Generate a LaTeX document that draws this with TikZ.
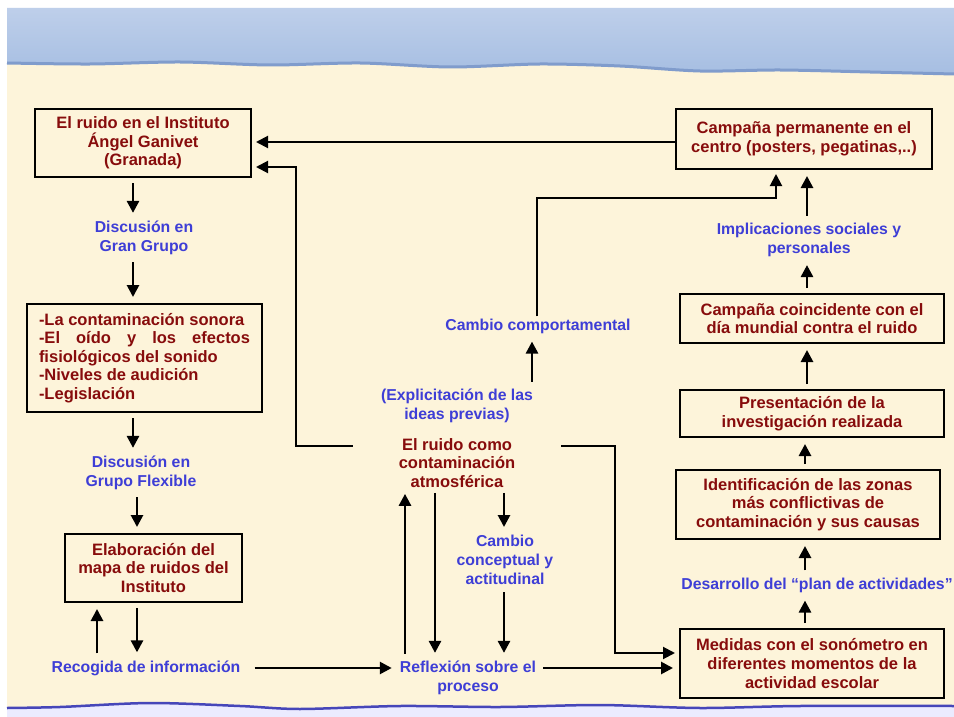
\documentclass[tikz,border=0pt]{standalone}
\usepackage{fontspec}
\setmainfont{Liberation Sans}
\usepackage{tikz}
\usetikzlibrary{arrows.meta}
\definecolor{crema}{RGB}{253,244,218}
\definecolor{cieloalto}{RGB}{190,207,234}
\definecolor{cielobajo}{RGB}{166,190,226}
\definecolor{borde}{RGB}{128,156,204}
\definecolor{granate}{RGB}{135,12,12}
\definecolor{azul}{RGB}{62,62,214}

\begin{document}
\begin{tikzpicture}[x=1pt,y=-1pt,
    caja/.style={draw,line width=2pt,text=granate,font=\bfseries\fontsize{16.5}{18.6}\selectfont,align=center,inner sep=0pt},
    etiq/.style={text=azul,font=\bfseries\fontsize{15.8}{19}\selectfont,align=center,inner sep=2pt},
    rojo/.style={text=granate,font=\bfseries\fontsize{16.5}{18.6}\selectfont,align=center,inner sep=2pt},
    flecha/.style={line width=2.7pt,-{Triangle[width=12pt,length=12pt]},shorten <=5pt,shorten >=6pt},
    conector/.style={line width=2pt,-{Triangle[width=12pt,length=12pt]},shorten >=4pt}]
    \useasboundingbox (0,0) rectangle (954,717);
    % fondo
    \fill[white] (0,0) rectangle (954,717);
    \fill[crema] (7,8) rectangle (954,712);
    \shade[top color=cieloalto,bottom color=cielobajo] (7,8) -- (954,8) -- (954,74)
        -- plot[smooth] coordinates {(870,72) (780,70) (700,71) (620,66) (540,64) (450,67) (360,63) (270,65) (180,62) (90,64) (7,63)} -- cycle;
    \draw[borde,line width=3pt] plot[smooth] coordinates {(7,63) (90,64) (180,62) (270,65) (360,63) (450,67) (540,64) (620,66) (700,71) (780,70) (870,72) (954,74)};
    \fill[white!92!blue] (7,708) -- plot[smooth] coordinates {(60,707) (150,703) (240,706) (300,709) (400,706) (500,707) (600,705) (700,708) (800,706) (954,706)} -- (954,717) -- (7,717) -- cycle;
    \draw[blue!45!gray,line width=2.5pt] plot[smooth] coordinates {(7,708) (60,707) (150,703) (240,706) (300,709) (400,706) (500,707) (600,705) (700,708) (800,706) (954,706)};

    % columna izquierda
    \node[caja,minimum width=216,minimum height=68] (ruido) at (143,143) {El ruido en el Instituto\\ Ángel Ganivet\\ (Granada)};
    \node[etiq] (gg) at (144,238) {Discusión en\\ Gran Grupo};
    \node[caja,minimum width=235,minimum height=108,text width=211,align=justify] (temas) at (144.5,358)
        {-La contaminación sonora\\ -El oído y los efectos\linebreak fisiológicos del sonido\\ -Niveles de audición\\ -Legislación};
    \node[etiq] (gf) at (141,473) {Discusión en\\ Grupo Flexible};
    \node[caja,minimum width=177,minimum height=68] (mapa) at (153.5,568) {Elaboración del\\ mapa de ruidos del\\ Instituto};
    \node[etiq] (recog) at (146,668) {Recogida de información};

    % centro
    \node[etiq] (previas) at (457,406) {(Explicitación de las\\ ideas previas)};
    \node[rojo,minimum width=208,inner sep=0pt] (atmos) at (457,463) {El ruido como\\ contaminación\\ atmosférica};
    \node[etiq] (concept) at (505,560) {Cambio\\ conceptual y\\ actitudinal};
    \node[etiq] (refl) at (468,678) {Reflexión sobre el\\ proceso};
    \node[etiq] (comport) at (538,326) {Cambio comportamental};

    % columna derecha
    \node[caja,minimum width=256,minimum height=60] (permanente) at (804,139) {Campaña permanente en el\\ centro (posters, pegatinas,..)};
    \node[etiq] (implic) at (809,240) {Implicaciones sociales y\\ personales};
    \node[caja,minimum width=264,minimum height=49] (coincide) at (812,318.5) {Campaña coincidente con el\\ día mundial contra el ruido};
    \node[caja,minimum width=264,minimum height=47] (present) at (812,413.5) {Presentación de la\\ investigación realizada};
    \node[caja,minimum width=264,minimum height=69] (ident) at (808,504.5) {Identificación de las zonas\\ más conflictivas de\\ contaminación y sus causas};
    \node[etiq] (desarrollo) at (817,585) {Desarrollo del “plan de actividades”};
    \node[caja,minimum width=264,minimum height=69] (medidas) at (812,663.5) {Medidas con el sonómetro en\\ diferentes momentos de la\\ actividad escolar};

    \draw[flecha] (ruido.south -| 133,0) -- (gg.north -| 133,0);
    \draw[flecha] (gg.south -| 133,0) -- (temas.north -| 133,0);
    \draw[flecha] (temas.south -| 133,0) -- (gf.north -| 133,0);
    \draw[flecha] (gf.south -| 137,0) -- (mapa.north -| 137,0);
    \draw[flecha] (recog.north -| 97,0) -- (mapa.south -| 97,0);
    \draw[flecha] (mapa.south -| 137,0) -- (recog.north -| 137,0);
    \draw[flecha,shorten <=12pt] (recog.east) -- (refl.west |- recog.east);
    \draw[flecha] (refl.north -| 405,0) -- (atmos.south -| 405,0);
    \draw[flecha] (atmos.south -| 435,0) -- (refl.north -| 435,0);
    \draw[flecha] (atmos.south -| 504,0) -- (concept.north -| 504,0);
    \draw[flecha] (concept.south -| 504,0) -- (refl.north -| 504,0);
    \draw[flecha] (refl.east |- recog.east) -- (medidas.west |- recog.east);
    \draw[flecha] (previas.north -| 532,0) -- (comport.south -| 532,0);
    \draw[conector] (comport.north -| 537,0) -- (537,198) -| ([xshift=-28]permanente.south);
    \draw[flecha] (implic.north -| 807,0) -- (permanente.south -| 807,0);
    \draw[flecha] (coincide.north -| 807,0) -- (implic.south -| 807,0);
    \draw[flecha] (present.north -| 807,0) -- (coincide.south -| 807,0);
    \draw[flecha] (ident.north -| 805,0) -- (present.south -| 805,0);
    \draw[flecha] (desarrollo.north -| 805,0) -- (ident.south -| 805,0);
    \draw[flecha] (medidas.north -| 805,0) -- (desarrollo.south -| 805,0);
    \draw[conector] (atmos.east |- 0,446) -- (615,446) -- (615,653) -- (medidas.west |- 0,653);
    \draw[conector] (atmos.west |- 0,446) -- (296,446) -- (296,167) -- (ruido.east |- 0,167);
    \draw[conector] (permanente.west |- 0,142) -- (ruido.east |- 0,142);
\end{tikzpicture}
\end{document}
